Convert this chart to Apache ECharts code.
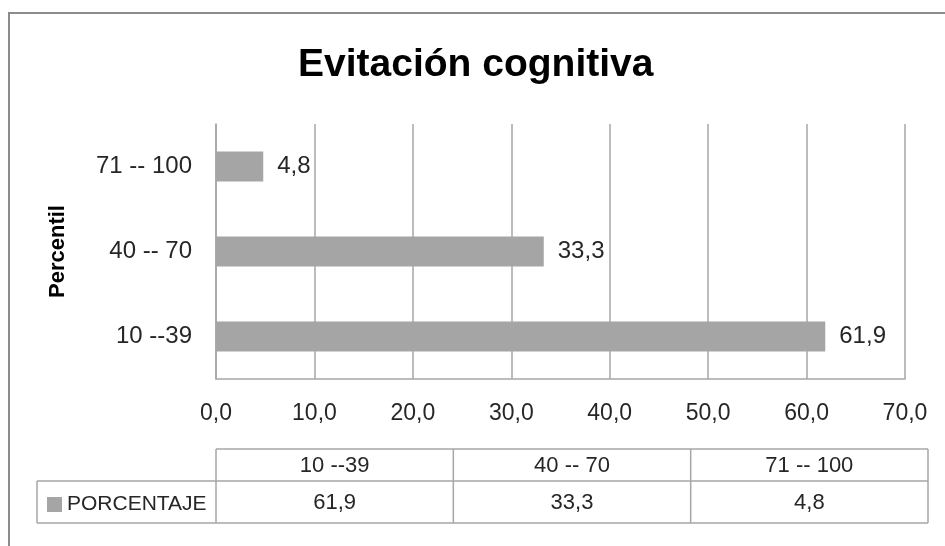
<!DOCTYPE html>
<html>
<head>
<meta charset="utf-8">
<script src="https://cdn.jsdelivr.net/npm/echarts@6/dist/echarts.min.js"></script>
<style>
  html, body { margin: 0; padding: 0; background: #fff; }
  #chart { width: 945px; height: 546px; }
</style>
</head>
<body>
<div id="chart"></div>
<script>
// Percentile bands (bottom to top on the category axis) and their percentages
const categories = ['10 --39', '40 -- 70', '71 -- 100'];
const porcentaje = [61.9, 33.3, 4.8];
const seriesName = 'PORCENTAJE';
const xTicks = { min: 0, max: 70, interval: 10 };

const FONT = '"Liberation Sans", Arial, sans-serif';
const TEXT = '#262626';
const LINE = '#a6a6a6';
const BAR = '#a5a5a5';

const fmt = v => v.toFixed(1).replace('.', ',');

// Data table under the plot
const tableLeft = 216, tableRight = 928;
const rowTop = 449, rowMid = 481, rowBottom = 523;
const legendCellLeft = 37;

const chart = echarts.init(document.getElementById('chart'), null, { renderer: 'canvas' });

function tableGraphics() {
  const g = [];
  const colW = (tableRight - tableLeft) / categories.length;
  const ls = { stroke: LINE, lineWidth: 1.5 };
  // horizontal rules
  g.push({ type: 'line', shape: { x1: tableLeft, y1: rowTop, x2: tableRight, y2: rowTop }, style: ls });
  g.push({ type: 'line', shape: { x1: legendCellLeft, y1: rowMid, x2: tableRight, y2: rowMid }, style: ls });
  g.push({ type: 'line', shape: { x1: legendCellLeft, y1: rowBottom, x2: tableRight, y2: rowBottom }, style: ls });
  // vertical rules
  g.push({ type: 'line', shape: { x1: legendCellLeft, y1: rowMid, x2: legendCellLeft, y2: rowBottom }, style: ls });
  for (let i = 0; i <= categories.length; i++) {
    const x = tableLeft + i * colW;
    g.push({ type: 'line', shape: { x1: x, y1: rowTop, x2: x, y2: rowBottom }, style: ls });
  }
  // header and value cells
  categories.forEach((c, i) => {
    const cx = tableLeft + (i + 0.5) * colW;
    g.push({ type: 'text', x: cx, y: (rowTop + rowMid) / 2 + 1,
      style: { text: c, font: '22px ' + FONT, fill: TEXT, align: 'center', verticalAlign: 'middle' } });
    g.push({ type: 'text', x: cx, y: (rowMid + rowBottom) / 2 + 1,
      style: { text: fmt(porcentaje[i]), font: '22px ' + FONT, fill: TEXT, align: 'center', verticalAlign: 'middle' } });
  });
  // outer chart frame
  g.push({ type: 'rect', shape: { x: 9, y: 13, width: 960, height: 560 },
    style: { fill: 'none', stroke: '#8c8c8c', lineWidth: 2 }, z: -1 });
  return g;
}

chart.setOption({
  animation: false,
  backgroundColor: '#fff',
  title: {
    text: 'Evitación cognitiva',
    left: 298,
    top: 46,
    padding: 0,
    textStyle: { fontFamily: FONT, fontSize: 39, fontWeight: 'bold', color: '#000' }
  },
  legend: {
    data: [seriesName],
    left: 47,
    top: 494,
    padding: 0,
    icon: 'rect',
    itemWidth: 15,
    itemHeight: 15,
    itemGap: 8,
    textStyle: { fontFamily: FONT, fontSize: 21, color: TEXT }
  },
  grid: { left: 216, right: 40, top: 124, bottom: 167, containLabel: false },
  xAxis: {
    type: 'value',
    min: xTicks.min,
    max: xTicks.max,
    interval: xTicks.interval,
    axisLine: { show: true, lineStyle: { color: LINE, width: 1.5 } },
    axisTick: { show: false },
    splitLine: { show: true, lineStyle: { color: LINE, width: 1.5 } },
    axisLabel: { margin: 23, formatter: v => fmt(v), fontFamily: FONT, fontSize: 23, color: TEXT }
  },
  yAxis: {
    type: 'category',
    data: categories,
    name: 'Percentil',
    nameLocation: 'middle',
    nameGap: 147,
    nameRotate: 90,
    nameTextStyle: { fontFamily: FONT, fontSize: 22, fontWeight: 'bold', color: '#000' },
    axisLine: { show: true, lineStyle: { color: LINE, width: 1.5 } },
    axisTick: { show: false },
    axisLabel: { margin: 24, fontFamily: FONT, fontSize: 24, color: TEXT }
  },
  series: [{
    name: seriesName,
    type: 'bar',
    data: porcentaje,
    barWidth: 30,
    itemStyle: { color: BAR },
    label: {
      show: true,
      position: 'right',
      distance: 14,
      formatter: p => fmt(p.value),
      fontFamily: FONT,
      fontSize: 24,
      color: TEXT
    }
  }],
  graphic: tableGraphics()
});
</script>
</body>
</html>
